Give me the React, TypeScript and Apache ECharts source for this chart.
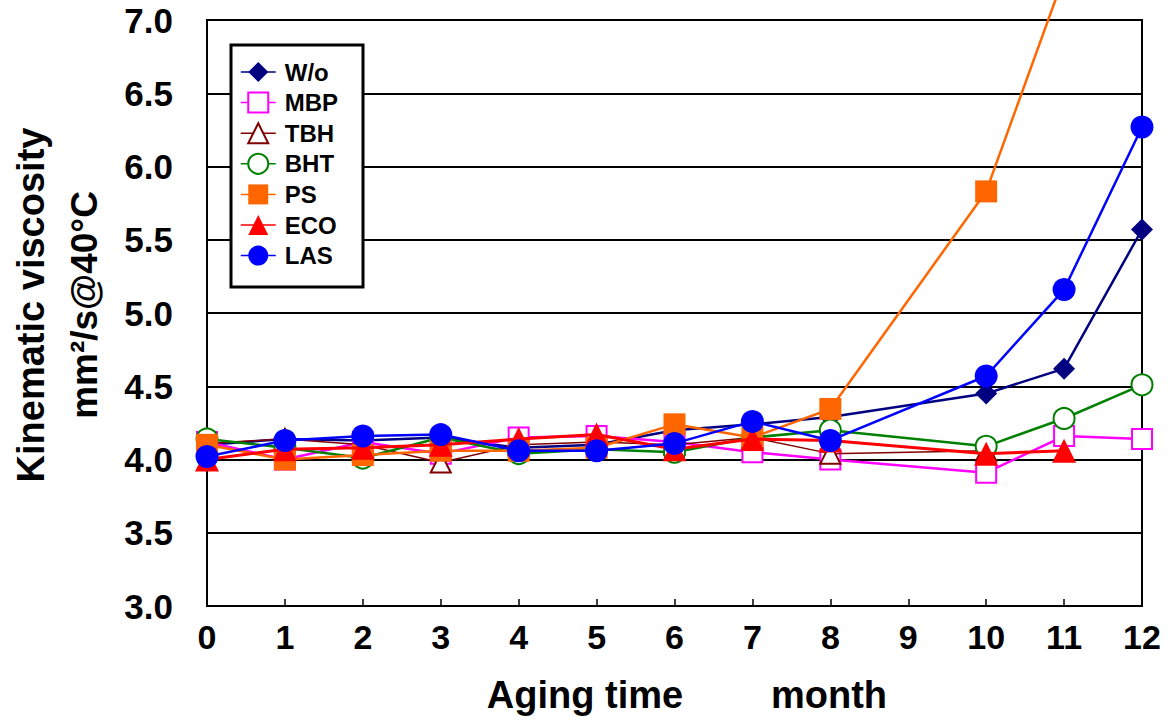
import React, { useEffect, useRef } from "react";
import * as echarts from "echarts";

// ---- data ----
const seriesNames = ["W/o", "MBP", "TBH", "BHT", "PS", "ECO", "LAS"];

const monthsWo = [0, 1, 2, 3, 4, 5, 6, 7, 8, 10, 11, 12];
const valuesWo = [4.10, 4.14, 4.13, 4.15, 4.08, 4.10, 4.20, 4.24, 4.29, 4.45, 4.62, 5.57];

const monthsMBP = [0, 1, 2, 3, 4, 5, 6, 7, 8, 10, 11, 12];
const valuesMBP = [4.12, 4.00, 4.12, 4.04, 4.15, 4.16, 4.12, 4.05, 4.00, 3.91, 4.16, 4.14];

const monthsTBH = [0, 1, 2, 3, 4, 5, 6, 7, 8, 10];
const valuesTBH = [4.11, 4.14, 4.10, 3.98, 4.10, 4.12, 4.10, 4.15, 4.04, 4.06];

const monthsBHT = [0, 1, 2, 3, 4, 5, 6, 7, 8, 10, 11, 12];
const valuesBHT = [4.14, 4.08, 4.01, 4.15, 4.04, 4.07, 4.05, 4.15, 4.20, 4.09, 4.28, 4.51];

const monthsPS = [0, 1, 2, 3, 4, 5, 6, 7, 8, 10, 11];
const valuesPS = [4.10, 4.00, 4.03, 4.06, 4.06, 4.08, 4.24, 4.15, 4.345, 5.83, 7.3];

const monthsECO = [0, 1, 2, 3, 4, 5, 6, 7, 8, 10, 11];
const valuesECO = [4.00, 4.07, 4.08, 4.10, 4.14, 4.17, 4.07, 4.14, 4.13, 4.04, 4.06];

const monthsLAS = [0, 1, 2, 3, 4, 5, 6, 7, 8, 10, 11, 12];
const valuesLAS = [4.02, 4.13, 4.16, 4.17, 4.06, 4.06, 4.11, 4.26, 4.13, 4.57, 5.16, 6.27];

const xTicks = [0, 1, 2, 3, 4, 5, 6, 7, 8, 9, 10, 11, 12];
const yTicks = [3.0, 3.5, 4.0, 4.5, 5.0, 5.5, 6.0, 6.5, 7.0];

const xTitleLeft = "Aging time";
const xTitleRight = "month";
const yTitle1 = "Kinematic viscosity";
const yTitle2 = "mm²/s@40°C";

const FONT = "'Liberation Sans', Arial, Helvetica, sans-serif";

const pair = (xs: number[], ys: number[]) => xs.map((x, i) => [x, ys[i]]);

export default function App() {
  const ref = useRef<HTMLDivElement>(null);
  useEffect(() => {
    if (!ref.current) return;
    const chart = echarts.init(ref.current, undefined, { renderer: "svg" });

    const styles = [
      { data: pair(monthsWo, valuesWo), color: "#000080", symbol: "diamond", size: 22, lw: 2.5 },
      { data: pair(monthsMBP, valuesMBP), color: "#FF00FF", symbol: "emptyRect", size: 20, lw: 2.5 },
      { data: pair(monthsTBH, valuesTBH), color: "#800000", symbol: "emptyTriangle", size: 20, lw: 1.5 },
      { data: pair(monthsBHT, valuesBHT), color: "#008000", symbol: "emptyCircle", size: 21, lw: 2.5 },
      { data: pair(monthsPS, valuesPS), color: "#FF6600", symbol: "rect", size: 22, lw: 2.5 },
      { data: pair(monthsECO, valuesECO), color: "#FF0000", symbol: "triangle", size: 24, lw: 3 },
      { data: pair(monthsLAS, valuesLAS), color: "#0000FF", symbol: "circle", size: 23, lw: 2.5 },
    ];

    const series = styles.map((s, i) => ({
      name: seriesNames[i],
      type: "line",
      data: s.data,
      symbol: s.symbol,
      symbolSize: s.size,
      showAllSymbol: true,
      clip: false,
      lineStyle: { color: s.color, width: s.lw },
      itemStyle: { color: s.color, borderColor: s.color, borderWidth: s.symbol.startsWith("empty") ? 3 : 0 },
      z: 3 + i * 0.01,
    }));

    chart.setOption({
      animation: false,
      backgroundColor: "#ffffff",
      grid: {
        left: 207,
        right: 32,
        top: 20,
        bottom: 118,
        show: true,
        borderColor: "#000",
        borderWidth: 2,
        backgroundColor: "transparent",
      },
      xAxis: {
        type: "value",
        min: xTicks[0],
        max: xTicks[xTicks.length - 1],
        interval: 1,
        axisLine: { show: true, lineStyle: { color: "#000", width: 2 } },
        axisTick: { show: true, inside: true, length: 7, lineStyle: { color: "#000", width: 1.5 } },
        splitLine: { show: false },
        axisLabel: {
          margin: 14,
          color: "#000",
          fontFamily: FONT,
          fontWeight: "bold",
          fontSize: 34,
        },
      },
      yAxis: {
        type: "value",
        min: yTicks[0],
        max: yTicks[yTicks.length - 1],
        interval: 0.5,
        axisLine: { show: true, lineStyle: { color: "#000", width: 2 } },
        axisTick: { show: false },
        splitLine: { show: true, lineStyle: { color: "#000", width: 2 } },
        axisLabel: {
          margin: 34,
          color: "#000",
          fontFamily: FONT,
          fontWeight: "bold",
          fontSize: 35,
          formatter: (v: number) => v.toFixed(1),
        },
      },
      legend: {
        orient: "vertical",
        left: 240,
        top: 60,
        padding: 0,
        itemWidth: 35,
        itemHeight: 25,
        itemGap: 6.6,
        z: 10,
        lineStyle: { width: 1.5 },
        textStyle: {
          color: "#000",
          fontFamily: FONT,
          fontWeight: "bold",
          fontSize: 24,
          padding: [0, 0, 0, 4],
        },
        data: seriesNames,
      },
      graphic: [
        {
          type: "rect",
          z: 9,
          shape: { x: 231, y: 45, width: 132, height: 242 },
          style: { fill: "#fff", stroke: "#000", lineWidth: 3 },
        },
        {
          type: "text",
          x: 585,
          y: 695,
          style: {
            text: xTitleLeft,
            fill: "#000",
            font: `bold 38px ${FONT}`,
            textAlign: "center",
            textVerticalAlign: "middle",
          },
        },
        {
          type: "text",
          x: 829,
          y: 695,
          style: {
            text: xTitleRight,
            fill: "#000",
            font: `bold 38px ${FONT}`,
            textAlign: "center",
            textVerticalAlign: "middle",
          },
        },
        {
          type: "text",
          x: 31,
          y: 305,
          rotation: Math.PI / 2,
          style: {
            text: yTitle1,
            fill: "#000",
            font: `bold 38px ${FONT}`,
            textAlign: "center",
            textVerticalAlign: "middle",
          },
        },
        {
          type: "text",
          x: 84,
          y: 305,
          rotation: Math.PI / 2,
          style: {
            text: yTitle2,
            fill: "#000",
            font: `bold 37px ${FONT}`,
            textAlign: "center",
            textVerticalAlign: "middle",
          },
        },
      ],
      series,
    });
    return () => chart.dispose();
  }, []);
  return (
    <div
      ref={ref}
      style={{ position: "fixed", left: 0, top: 0, width: 1174, height: 724, background: "#fff" }}
    />
  );
}
